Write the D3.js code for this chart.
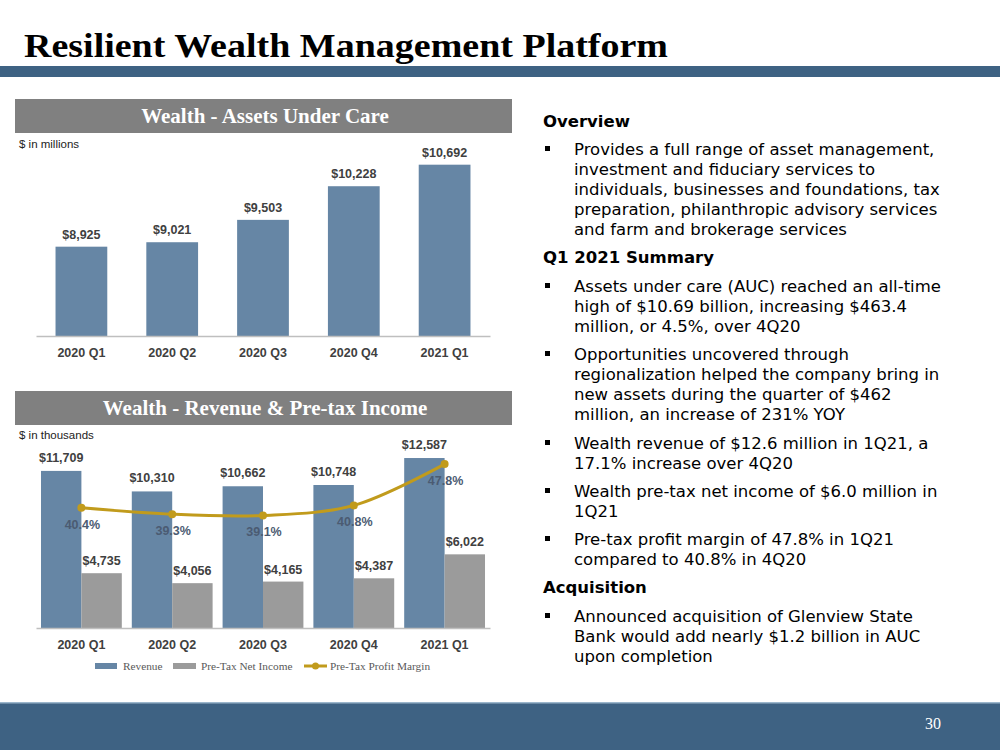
<!DOCTYPE html>
<html><head><meta charset="utf-8">
<script src="https://cdn.jsdelivr.net/npm/d3@7"></script>
<style>body{margin:0;background:#fff;}svg{display:block;}</style>
</head><body>
<svg id="c" width="1000" height="750"></svg>
<script>
// ---- data ----
const quarters = ["2020 Q1","2020 Q2","2020 Q3","2020 Q4","2021 Q1"];
const aucValues = [8925, 9021, 9503, 10228, 10692];
const revenueValues = [11709, 10310, 10662, 10748, 12587];
const pretaxValues = [4735, 4056, 4165, 4387, 6022];
const marginValues = [40.4, 39.3, 39.1, 40.8, 47.8];
const legendLabels = ["Revenue", "Pre-Tax Net Income", "Pre-Tax Profit Margin"];

const BLUE = "#6686a5", GRAY = "#9b9b9b", GOLD = "#c19b1c", DARK = "#404040", PCT = "#4b5b72";
const svg = d3.select("#c");
const fmt = d3.format(",");

// ---- slide frame ----
svg.append("text").attr("x", 24).attr("y", 57).attr("textLength", 644).attr("lengthAdjust", "spacingAndGlyphs")
  .style("font-family", "'Liberation Serif', serif").style("font-weight", "bold").style("font-size", "34px")
  .attr("fill", "#000").text("Resilient Wealth Management Platform");
svg.append("rect").attr("x", 0).attr("y", 66).attr("width", 1000).attr("height", 11).attr("fill", "#3e6283");
svg.append("rect").attr("x", 0).attr("y", 702).attr("width", 1000).attr("height", 48).attr("fill", "#3e6283");
svg.append("rect").attr("x", 0).attr("y", 702).attr("width", 1000).attr("height", 1.5).attr("fill", "#9bb6cc");
svg.append("text").attr("x", 933).attr("y", 729).attr("text-anchor", "middle")
  .style("font-family", "'Liberation Serif', serif").style("font-size", "16px").attr("fill", "#fff").text("30");

function header(y, label) {
  svg.append("rect").attr("x", 15).attr("y", y).attr("width", 497).attr("height", 34).attr("fill", "#808080");
  svg.append("text").attr("x", 265).attr("y", y + 24).attr("text-anchor", "middle")
    .style("font-family", "'Liberation Serif', serif").style("font-weight", "bold").style("font-size", "21px")
    .attr("fill", "#fff").text(label);
}
function unitLabel(y, t) {
  svg.append("text").attr("x", 19).attr("y", y).style("font-family", "'Liberation Sans', Arial, sans-serif")
    .style("font-size", "11.5px").attr("fill", "#222").text(t);
}
function xAxis(g, x, y) {
  const ax = g.append("g").attr("transform", `translate(0,${y})`).call(d3.axisBottom(x).tickSize(0).tickPadding(12));
  ax.select(".domain").attr("stroke", "#bfbfbf").attr("stroke-width", 1.5);
  ax.selectAll("text").style("font-family", "'Liberation Sans', Arial, sans-serif").style("font-weight", "bold")
    .style("font-size", "12.5px").attr("fill", DARK);
}

// ---- chart 1: AUC ----
header(99, "Wealth - Assets Under Care");
unitLabel(148, "$ in millions");
const g1 = svg.append("g");
const x1 = d3.scaleBand().domain(quarters).range([36, 490]).paddingInner(0.43).paddingOuter(0.215);
const y1 = d3.scaleLinear().domain([7000, 11000]).range([336, 150.4]);
g1.selectAll("rect.auc").data(aucValues).join("rect").attr("class", "auc")
  .attr("x", (d, i) => x1(quarters[i])).attr("width", x1.bandwidth())
  .attr("y", d => y1(d)).attr("height", d => y1.range()[0] - y1(d)).attr("fill", BLUE);
g1.selectAll("text.lab").data(aucValues).join("text").attr("class", "lab")
  .attr("x", (d, i) => x1(quarters[i]) + x1.bandwidth() / 2).attr("y", d => y1(d) - 8).attr("text-anchor", "middle")
  .style("font-family", "'Liberation Sans', Arial, sans-serif").style("font-weight", "bold").style("font-size", "12.5px")
  .attr("fill", DARK).text(d => "$" + fmt(d));
xAxis(g1, x1, 336);

// ---- chart 2: revenue & pretax ----
header(391, "Wealth - Revenue & Pre-tax Income");
unitLabel(439, "$ in thousands");
const g2 = svg.append("g");
const x2 = d3.scaleBand().domain(quarters).range([36, 490]).paddingInner(0.11).paddingOuter(0.055);
const xs = d3.scaleBand().domain(["rev", "pt"]).range([0, x2.bandwidth()]);
const y2 = d3.scaleLinear().domain([1000, 14000]).range([628, 437.3]);
const yM = d3.scaleLinear().domain([20, 52.4]).range([628, 437]);
const grp = g2.selectAll("g.grp").data(quarters).join("g").attr("class", "grp")
  .attr("transform", d => `translate(${x2(d)},0)`);
grp.append("rect").attr("x", xs("rev")).attr("width", xs.bandwidth())
  .attr("y", (d, i) => y2(revenueValues[i])).attr("height", (d, i) => 628 - y2(revenueValues[i])).attr("fill", BLUE);
grp.append("rect").attr("x", xs("pt")).attr("width", xs.bandwidth())
  .attr("y", (d, i) => y2(pretaxValues[i])).attr("height", (d, i) => 628 - y2(pretaxValues[i])).attr("fill", GRAY);
const lf = s => s.style("font-family", "'Liberation Sans', Arial, sans-serif").style("font-weight", "bold").style("font-size", "12.5px");
grp.append("text").attr("x", xs("rev") + xs.bandwidth() / 2).attr("y", (d, i) => y2(revenueValues[i]) - 9)
  .attr("text-anchor", "middle").attr("fill", DARK).call(lf).text((d, i) => "$" + fmt(revenueValues[i]));
grp.append("text").attr("x", xs("pt") + xs.bandwidth() / 2).attr("y", (d, i) => y2(pretaxValues[i]) - 8)
  .attr("text-anchor", "middle").attr("fill", DARK).call(lf).text((d, i) => "$" + fmt(pretaxValues[i]));
const cx = d => x2(d) + x2.bandwidth() / 2;
const line = d3.line().x((d, i) => cx(quarters[i])).y(d => yM(d)).curve(d3.curveCatmullRom.alpha(0.5));
g2.append("path").datum(marginValues).attr("d", line).attr("fill", "none").attr("stroke", GOLD).attr("stroke-width", 3);
g2.selectAll("circle.m").data(marginValues).join("circle").attr("class", "m")
  .attr("cx", (d, i) => cx(quarters[i])).attr("cy", d => yM(d)).attr("r", 4).attr("fill", GOLD);
g2.selectAll("text.pct").data(marginValues).join("text").attr("class", "pct")
  .attr("x", (d, i) => cx(quarters[i]) + 1).attr("y", d => yM(d) + 21).attr("text-anchor", "middle")
  .attr("fill", PCT).call(lf).text(d => d.toFixed(1) + "%");
xAxis(g2, x2, 628);

// legend
const lg = svg.append("g").style("font-family", "'Liberation Serif', serif").style("font-size", "11.3px");
const legX = [95, 173, 304];
lg.append("rect").attr("x", legX[0]).attr("y", 663).attr("width", 22).attr("height", 6).attr("fill", BLUE);
lg.append("rect").attr("x", legX[1]).attr("y", 663).attr("width", 23).attr("height", 6).attr("fill", GRAY);
lg.append("line").attr("x1", legX[2]).attr("x2", legX[2] + 23).attr("y1", 666).attr("y2", 666).attr("stroke", GOLD).attr("stroke-width", 3);
lg.append("circle").attr("cx", legX[2] + 11.5).attr("cy", 666).attr("r", 3.5).attr("fill", GOLD);
lg.selectAll("text").data(legendLabels).join("text")
  .attr("x", (d, i) => legX[i] + [28, 28, 26][i]).attr("y", 670).attr("fill", "#595959").text(d => d);

// ---- right text ----
const tf = "'DejaVu Sans', Verdana, sans-serif";
const blocks = [
  {h: "Overview", y: 127},
  {b: ["Provides a full range of asset management,", "investment and fiduciary services to", "individuals, businesses and foundations, tax", "preparation, philanthropic advisory services", "and farm and brokerage services"], y: 155},
  {h: "Q1 2021 Summary", y: 263},
  {b: ["Assets under care (AUC) reached an all-time", "high of $10.69 billion, increasing $463.4", "million, or 4.5%, over 4Q20"], y: 292},
  {b: ["Opportunities uncovered through", "regionalization helped the company bring in", "new assets during the quarter of $462", "million, an increase of 231% YOY"], y: 360},
  {b: ["Wealth revenue of $12.6 million in 1Q21, a", "17.1% increase over 4Q20"], y: 449},
  {b: ["Wealth pre-tax net income of $6.0 million in", "1Q21"], y: 497},
  {b: ["Pre-tax profit margin of 47.8% in 1Q21", "compared to 40.8% in 4Q20"], y: 545},
  {h: "Acquisition", y: 593},
  {b: ["Announced acquisition of Glenview State", "Bank would add nearly $1.2 billion in AUC", "upon completion"], y: 622}
];
const tg = svg.append("g").style("font-family", tf).style("font-size", "16.5px").attr("fill", "#000");
blocks.forEach(bk => {
  if (bk.h) {
    tg.append("text").attr("x", 543).attr("y", bk.y).style("font-weight", "bold").text(bk.h);
  } else {
    tg.append("rect").attr("x", 545).attr("y", bk.y - 9).attr("width", 5).attr("height", 5).attr("fill", "#000");
    bk.b.forEach((ln, i) => tg.append("text").attr("x", 574).attr("y", bk.y + i * 20).text(ln));
  }
});
</script>
</body></html>
